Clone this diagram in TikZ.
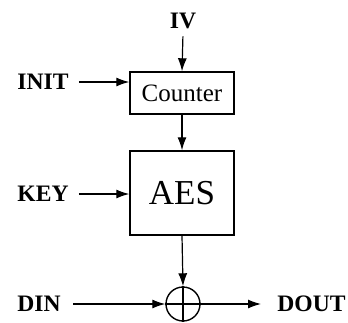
\documentclass[tikz,border=0pt]{standalone}
\usepackage{fontspec}
\setmainfont{Liberation Serif}
\usetikzlibrary{arrows.meta, positioning}

\begin{document}
\begin{tikzpicture}[x=0.5pt, y=-0.5pt,
		lbl/.style={font=\fontsize{11.8}{13}\selectfont\bfseries, inner sep=2pt},
		blk/.style={draw, line width=0.7pt, minimum width=52pt},
		sig/.style={line width=0.6pt, -{Latex[length=6.5pt,width=4.5pt]}}]
		\useasboundingbox (0,0) rectangle (348,322);

		\node[blk, minimum height=21pt, font=\fontsize{12.5}{14}\selectfont] (ctr) at (182,93) {Counter};
		\node[blk, minimum height=42pt, font=\fontsize{17.5}{20}\selectfont] (aes) at (182,193) {AES};
		\node[draw, circle, line width=0.7pt, minimum size=17pt, inner sep=0pt] (xor) at (183,304) {};
		\draw[line width=0.6pt] (xor.north) -- (xor.south);
		\draw[line width=0.6pt] (xor.west) -- (xor.east);

		\node[lbl] (iv) at (183,21) {IV};
		\node[lbl, anchor=west] (init) at (13,82) {INIT};
		\node[lbl, anchor=west] (key) at (13,194) {KEY};
		\node[lbl, anchor=west] (din) at (13,304) {DIN};
		\node[lbl, anchor=west] (dout) at (273,304) {DOUT};

		\draw[sig, shorten <=1.5pt] (iv.south) -- (ctr.north);
		\draw[sig, shorten <=3pt] (init.east) -- (init.east -| ctr.west);
		\draw[sig] (ctr.south) -- (aes.north);
		\draw[sig, shorten <=3pt] (key.east) -- (key.east -| aes.west);
		\draw[sig] (aes.south) -- (xor.north);
		\draw[sig, shorten <=4pt] (din.east) -- (xor.west);
		\draw[sig, shorten >=6pt] (xor.east) -- (dout.west);

	\end{tikzpicture}
\end{document}
